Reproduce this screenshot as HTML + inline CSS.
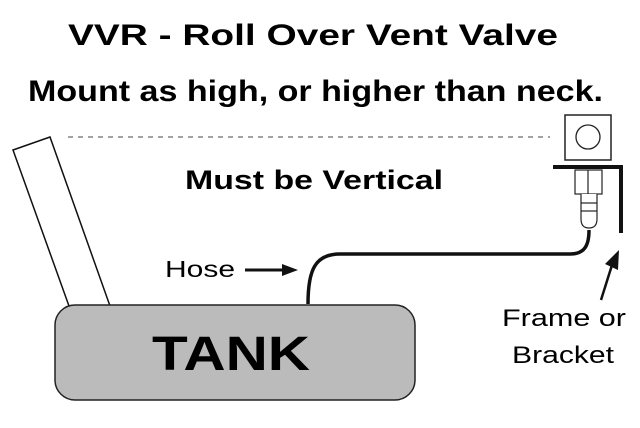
<!DOCTYPE html>
<html><head><meta charset="utf-8"><style>html,body{margin:0;padding:0;background:#fff}svg{display:block}text{font-family:"Liberation Sans",Arial,sans-serif}</style></head>
<body>
<svg width="640" height="428" viewBox="0 0 640 428" xmlns="http://www.w3.org/2000/svg">
<rect width="640" height="428" fill="#fff"/>
<text x="68" y="45" font-size="30" font-weight="bold" textLength="490" lengthAdjust="spacingAndGlyphs">VVR - Roll Over Vent Valve</text>
<text x="28" y="101" font-size="30" font-weight="bold" textLength="575" lengthAdjust="spacingAndGlyphs">Mount as high, or higher than neck.</text>
<line x1="68" y1="137" x2="550" y2="137" stroke="#444" stroke-width="1" stroke-dasharray="5,5"/>
<text x="185" y="189" font-size="27" font-weight="bold" textLength="258" lengthAdjust="spacingAndGlyphs">Must be Vertical</text>
<polygon points="13,150 50,137 110,306 69,306" fill="#fff" stroke="#111" stroke-width="1.5"/>
<rect x="55" y="305" width="360" height="95" rx="20" fill="#bbb" stroke="#222" stroke-width="1.5"/>
<text x="152" y="370" font-size="48" font-weight="bold" textLength="158" lengthAdjust="spacingAndGlyphs">TANK</text>
<text x="165" y="277" font-size="23" textLength="70" lengthAdjust="spacingAndGlyphs">Hose</text>
<line x1="245" y1="270" x2="285" y2="270" stroke="#111" stroke-width="3"/>
<polygon points="282,264 298,270 282,276" fill="#111"/>
<path d="M308,304 C308,270 315,254 340,254 L570,254 C585,254 589,245 589,230" fill="none" stroke="#111" stroke-width="3.5"/>
<rect x="565" y="115" width="46" height="45" fill="#fff" stroke="#222" stroke-width="1.5"/>
<circle cx="588" cy="137" r="12" fill="#fff" stroke="#222" stroke-width="1.3"/>
<rect x="553" y="165" width="70" height="4" fill="#111"/>
<rect x="619" y="165" width="4" height="68" fill="#111"/>
<rect x="575" y="170" width="27" height="24" fill="#fff" stroke="#222" stroke-width="1.2"/>
<line x1="588" y1="170" x2="588" y2="194" stroke="#222" stroke-width="1.2"/>
<path d="M581,194 L581,219 Q581,228 589,228 Q597,228 597,219 L597,194" fill="#fff" stroke="#222" stroke-width="1.2"/>
<line x1="581" y1="203" x2="597" y2="203" stroke="#222" stroke-width="1.2"/>
<line x1="581" y1="211" x2="597" y2="211" stroke="#222" stroke-width="1.2"/>
<line x1="601" y1="300" x2="612" y2="265" stroke="#111" stroke-width="2.5"/>
<polygon points="605,264 619,250 618,270" fill="#111"/>
<text x="502" y="326" font-size="24" textLength="124" lengthAdjust="spacingAndGlyphs">Frame or</text>
<text x="512" y="363" font-size="24" textLength="102" lengthAdjust="spacingAndGlyphs">Bracket</text>
</svg>
</body></html>
